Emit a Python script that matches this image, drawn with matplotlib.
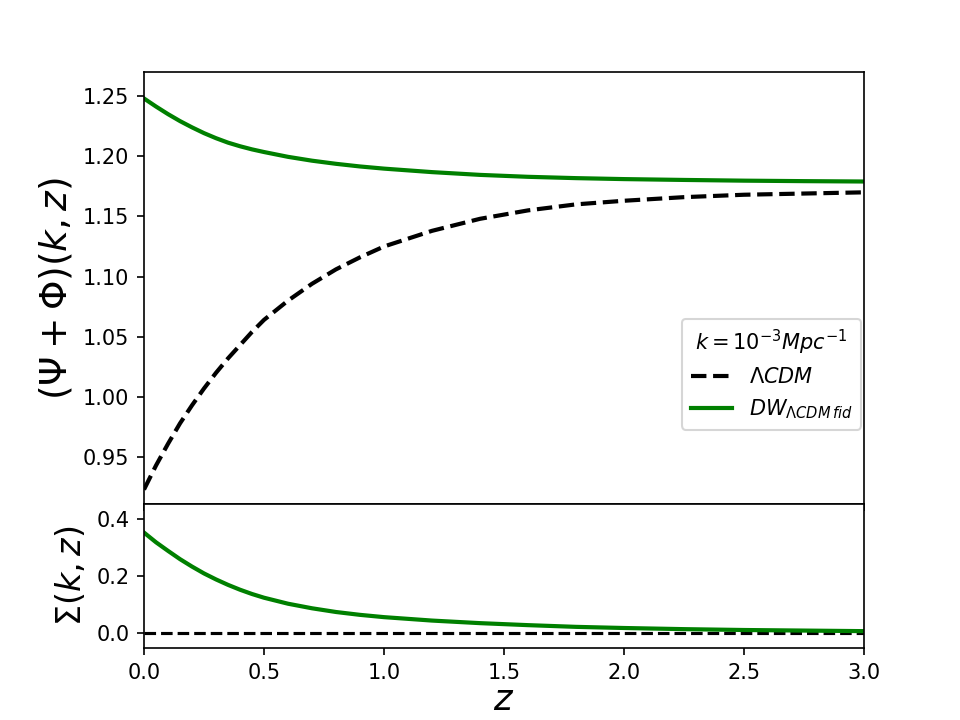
import numpy as np
import matplotlib
matplotlib.use('Agg')
import matplotlib.pyplot as plt

# values
z = [0.0, 0.05, 0.1, 0.15, 0.2, 0.25, 0.3, 0.35, 0.4, 0.45, 0.5, 0.6, 0.7, 0.8,
     0.9, 1.0, 1.2, 1.4, 1.6, 1.8, 2.0, 2.25, 2.5, 2.75, 3.0]
lcdm = [0.923, 0.943, 0.961, 0.978, 0.993, 1.007, 1.020, 1.032, 1.043, 1.054,
        1.064, 1.080, 1.094, 1.106, 1.116, 1.125, 1.138, 1.148, 1.155, 1.160,
        1.163, 1.166, 1.168, 1.169, 1.170]
dw = [1.248, 1.2413, 1.2350, 1.2292, 1.2240, 1.2192, 1.2150, 1.2113, 1.2083,
      1.2057, 1.2035, 1.1995, 1.1963, 1.1937, 1.1915, 1.1897, 1.1868, 1.1845,
      1.1829, 1.1818, 1.1810, 1.1803, 1.1797, 1.1793, 1.1790]
sigma_dw = [0.352, 0.318, 0.288, 0.259, 0.233, 0.209, 0.188, 0.169, 0.152, 0.137,
            0.124, 0.103, 0.087, 0.074, 0.064, 0.056, 0.044, 0.035, 0.028, 0.022,
            0.018, 0.014, 0.011, 0.009, 0.007]
sigma_lcdm = [0.0] * len(z)

fig, (ax1, ax2) = plt.subplots(2, 1, sharex=True, figsize=(6.4, 4.8),
                               gridspec_kw={'height_ratios': [3, 1]})
fig.subplots_adjust(left=0.15, right=0.9, top=0.9, bottom=0.1, hspace=0)

ax1.plot(z, lcdm, 'k--', lw=2, label=r'$\Lambda CDM$')
ax1.plot(z, dw, color='green', lw=2, label=r'$DW_{\Lambda CDM\,fid}$')
ax1.set_ylim(0.911, 1.27)
ax1.set_ylabel(r'$(\Psi+\Phi)(k,z)$', fontsize=18)
ax1.legend(title=r'$k=10^{-3}Mpc^{-1}$', loc='center right',
           bbox_to_anchor=(1.0, 0.30), borderaxespad=0.15,
           fontsize=10, title_fontsize=10)

ax2.plot(z, sigma_lcdm, 'k--', lw=1.5)
ax2.plot(z, sigma_dw, color='green', lw=2)
ax2.set_ylim(-0.052, 0.452)
ax2.set_xlim(0, 3)
ax2.set_ylabel(r'$\Sigma(k,z)$', fontsize=16)
ax2.set_xlabel(r'$z$', fontsize=17, labelpad=0)

fig.savefig('out.png', dpi=150)
